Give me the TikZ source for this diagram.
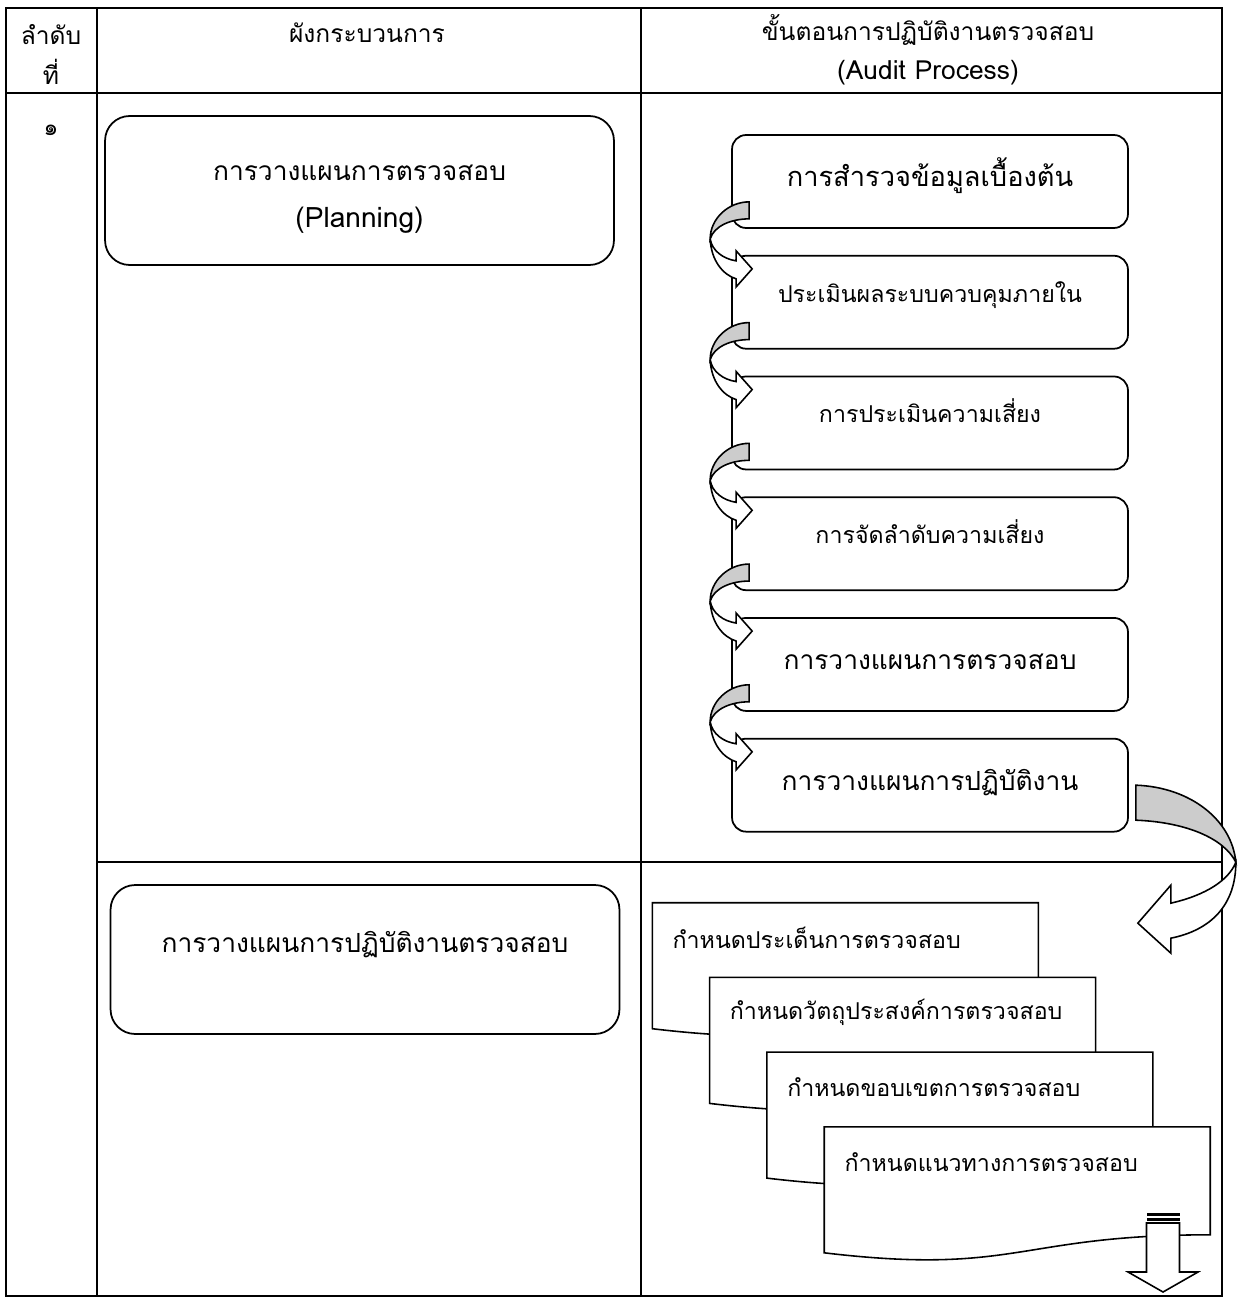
\documentclass[tikz,border=0pt]{standalone}
\usepackage{fontspec}
\newfontfamily\thaifont[Script=Thai]{Loma}
\usetikzlibrary{positioning}

\tikzset{
  bendarrow/.pic={
    \draw[bandback] (18,-27) .. controls (-3,-27) and (-21,-10) .. (-21,10) .. controls (-17,-3) and (0,-10) .. (18,-10) -- cycle;
    \draw[bandfront] (-21,10) .. controls (-20,32) and (-8,46) .. (5,50) -- (5,58) -- (21,40) -- (5,22) -- (5,32) .. controls (-8,30) and (-19,22) .. (-21,10) -- cycle;
  },
  turnarrow/.pic={
    \draw[bandback] (7,0) .. controls (62,2) and (103,35) .. (107,77) .. controls (95,53) and (57,37) .. (7,35) -- cycle;
    \draw[bandfront] (107,77) .. controls (107,120) and (82,145) .. (42,153) -- (42,168) -- (9,138) -- (42,100) -- (42,118) .. controls (77,110) and (100,95) .. (107,77) -- cycle;
  },
  docsheet/.pic={
    \draw[sheet] (0,0) -- (386,0) -- (386,108) .. controls (193,108) and (193,149) .. (0,126) -- cycle;
  },
  stripedarrow/.pic={
    \fill (-16.5,0) rectangle (16.5,3);
    \fill (-16.5,5) rectangle (16.5,8);
    \draw[bandfront] (-16.5,10) -- (16.5,10) -- (16.5,59) -- (35,59) -- (0,79) -- (-35,59) -- (-16.5,59) -- cycle;
  }
}

\begin{document}
\begin{tikzpicture}[x=0.02cm, y=-0.02cm, font=\thaifont\fontsize{15}{26.7}\selectfont,
	tableline/.style={line width=0.8pt},
	headtext/.style={font=\thaifont\fontsize{14}{20}\selectfont},
	minor/.style={font=\thaifont\fontsize{13.2}{18}\selectfont},
	planbox/.style={draw, line width=1pt, rounded corners=14pt, minimum width=10.18cm, minimum height=2.98cm},
	stepbox/.style={draw, line width=1pt, rounded corners=8pt, minimum width=7.92cm, minimum height=1.86cm, text height=0.45cm, text depth=0.25cm},
	stepsmall/.style={stepbox, minor, text height=0.35cm, text depth=0.35cm},
	sheet/.style={draw, line width=0.9pt, fill=white},
	sheettext/.style={minor, anchor=west, inner sep=0pt},
	bandback/.style={draw, line width=0.9pt, fill=gray!40},
	bandfront/.style={draw, line width=0.9pt, fill=white}]
	\useasboundingbox (0,0) rectangle (1237,1297);

	\draw[tableline] (6,8) rectangle (1222,1296);
	\draw[tableline] (97,8) -- (97,1296);
	\draw[tableline] (641,8) -- (641,1296);
	\draw[tableline] (6,93) -- (1222,93);
	\draw[tableline] (97,862) -- (1222,862);

	\node[headtext] (no1) at (51,35) {ลำดับ};
	\node[headtext] (no2) at (51,72) {ที่};
	\node[headtext] (flow) at (367,33) {ผังกระบวนการ};
	\node[headtext] (audit1) at (928,30) {ขั้นตอนการปฏิบัติงานตรวจสอบ};
	\node (audit2) at (928,73) {(Audit Process)};
	\node[minor] (row1) at (51,130) {๑};

	\node[planbox, label={[align=center, yshift=-0.18cm]center:การวางแผนการตรวจสอบ\\{\fontsize{16}{26}\selectfont (Planning)}}] (p1) at (359.5,190.5) {};
	\node[planbox, label={[yshift=0.29cm]center:การวางแผนการปฏิบัติงานตรวจสอบ}] (p2) at (365,959.5) {};

	\node[stepbox, font=\thaifont\fontsize{15.5}{20}\selectfont] (s1) at (930,181.5) {การสำรวจข้อมูลเบื้องต้น};
	\node[stepsmall, below=0.52cm of s1] (s2) {ประเมินผลระบบควบคุมภายใน};
	\node[stepsmall, below=0.52cm of s2] (s3) {การประเมินความเสี่ยง};
	\node[stepsmall, below=0.52cm of s3] (s4) {การจัดลำดับความเสี่ยง};
	\node[stepbox, below=0.52cm of s4] (s5) {การวางแผนการตรวจสอบ};
	\node[stepbox, below=0.52cm of s5] (s6) {การวางแผนการปฏิบัติงาน};

	\foreach \i in {1,...,5}
		\pic at (s\i.south west) {bendarrow};
	\pic at (s6.east) {turnarrow};

	\foreach \i/\txt in {1/กำหนดประเด็นการตรวจสอบ, 2/กำหนดวัตถุประสงค์การตรวจสอบ, 3/กำหนดขอบเขตการตรวจสอบ, 4/กำหนดแนวทางการตรวจสอบ} {
		\pic at ({595+57.3*\i},{828+74.7*\i}) {docsheet};
		\node[sheettext] (d\i) at ({615+57.3*\i},{863+74.7*\i}) {\txt};
	}
	\pic at (1163,1213) {stripedarrow};
\end{tikzpicture}
\end{document}
